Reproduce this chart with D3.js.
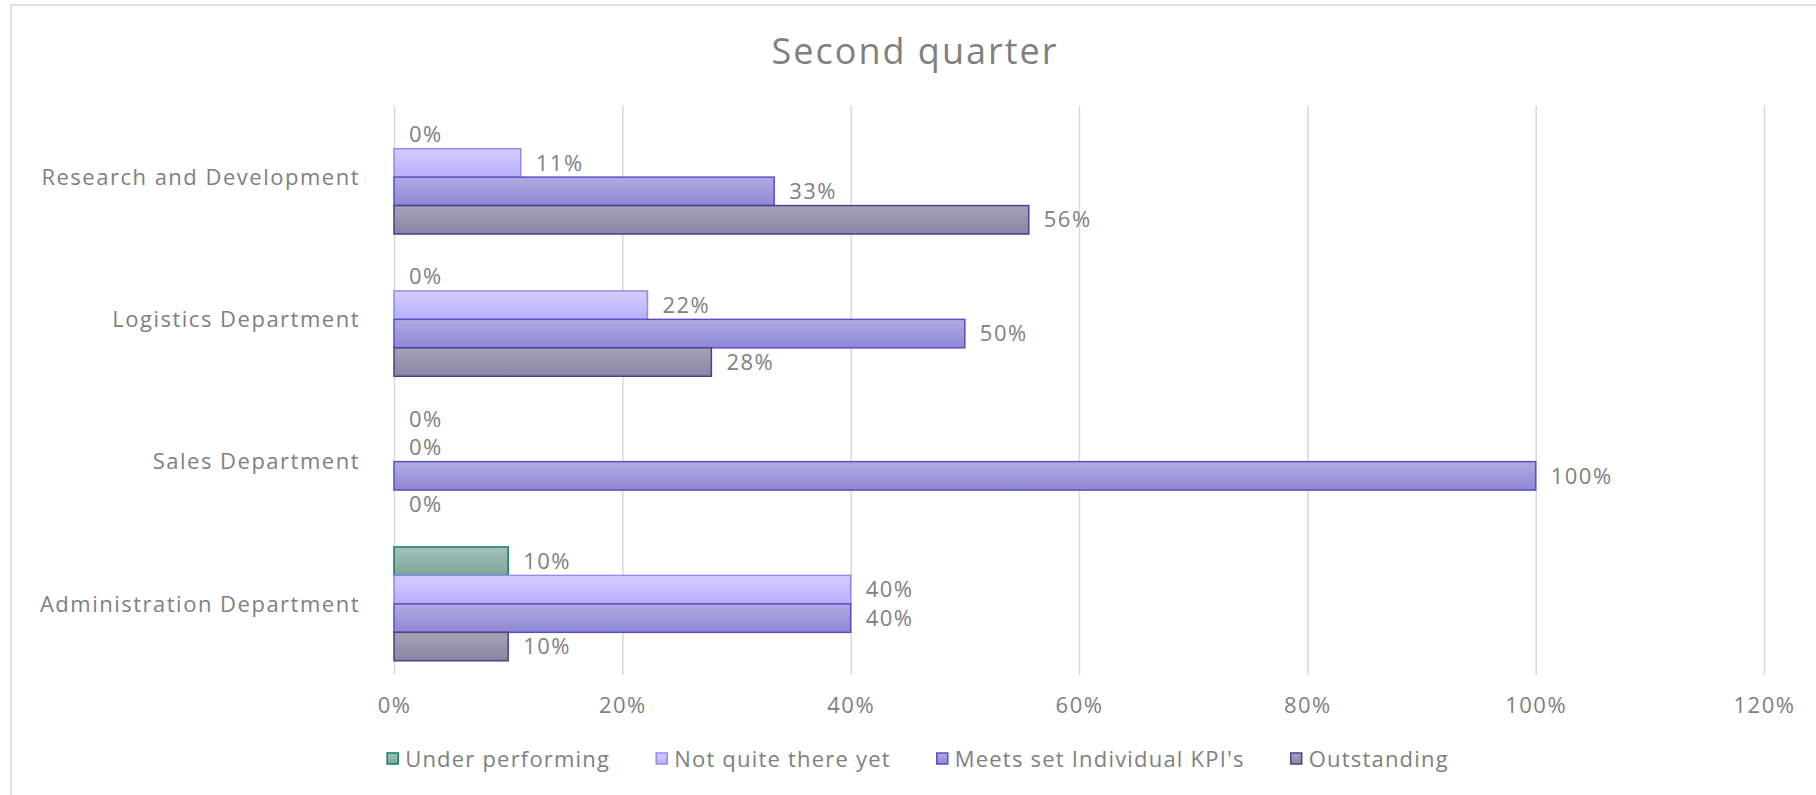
<!DOCTYPE html>
<html>
<head>
<meta charset="utf-8">
<script src="https://cdn.jsdelivr.net/npm/d3@7"></script>
<style>
  body { margin: 0; background: #fff; }
  svg { display: block; font-family: 'Open Sans', sans-serif; }
</style>
</head>
<body>
<svg width="1816" height="795"></svg>
<script>
// chart data
const categories = ['Research and Development', 'Logistics Department', 'Sales Department', 'Administration Department']
const seriesNames = ['Under performing', 'Not quite there yet', "Meets set Individual KPI's", 'Outstanding']
const underPerforming = [0, 0, 0, 0.10]
const notQuite = [0.111, 0.222, 0, 0.40]
const meetsKpi = [0.333, 0.50, 1.00, 0.40]
const outstanding = [0.556, 0.278, 0, 0.10]
const xTicks = [0, 0.2, 0.4, 0.6, 0.8, 1.0, 1.2]

const colors = [
  { top: '#a3c2ba', bottom: '#7fa59b', stroke: '#147a6d' },
  { top: '#d3cfff', bottom: '#b7aefa', stroke: '#9588f0' },
  { top: '#b0ace2', bottom: '#8f87d5', stroke: '#5a4ec6' },
  { top: '#a7a3b6', bottom: '#8a84a2', stroke: '#4a4090' }
]

const seriesValues = [underPerforming, notQuite, meetsKpi, outstanding]
const data = categories.map((c, i) => ({
  category: c,
  values: seriesNames.map((s, j) => ({ series: s, idx: j, value: seriesValues[j][i] }))
}))

const svg = d3.select('svg')
const width = +svg.attr('width')
const height = +svg.attr('height')
const textColor = '#808080'
const gridColor = '#d9d9d9'
const fontSize = '22px'
const spacing = '1.5px'

// chart border (right and bottom edges fall outside the picture)
svg.append('path')
  .attr('d', `M11,${height} V5 H${width}`)
  .attr('fill', 'none')
  .attr('stroke', gridColor)
  .attr('stroke-width', 1.5)

const defs = svg.append('defs')
colors.forEach((c, i) => {
  const grad = defs.append('linearGradient')
    .attr('id', 'grad' + i)
    .attr('x1', 0).attr('y1', 0).attr('x2', 0).attr('y2', 1)
  grad.append('stop').attr('offset', '0%').attr('stop-color', c.top)
  grad.append('stop').attr('offset', '100%').attr('stop-color', c.bottom)
})

svg.append('text')
  .attr('x', 915).attr('y', 64)
  .attr('text-anchor', 'middle')
  .style('fill', textColor)
  .style('font-size', '36px')
  .style('letter-spacing', '2px')
  .text('Second quarter')

const margin = { top: 106, left: 394, right: 52, bottom: 120 }
const innerWidth = width - margin.left - margin.right
const innerHeight = height - margin.top - margin.bottom

const xScale = d3.scaleLinear()
  .domain([0, 1.2])
  .range([0, innerWidth])

const yScale = d3.scaleBand()
  .domain(categories)
  .range([0, innerHeight])
  .paddingInner(0.2)
  .paddingOuter(0.1)

const yInner = d3.scaleBand()
  .domain(seriesNames)
  .range([0, yScale.bandwidth()])

const g = svg.append('g')
  .attr('transform', `translate(${margin.left}, ${margin.top})`)

const xAxis = d3.axisBottom(xScale)
  .tickValues(xTicks)
  .tickSize(-innerHeight)
  .tickPadding(22)
  .tickFormat(d3.format('.0%'))

const xAxisG = g.append('g').call(xAxis)
  .attr('transform', `translate(0, ${innerHeight})`)
xAxisG.select('.domain').remove()
xAxisG.selectAll('line').attr('stroke', gridColor).attr('stroke-width', 1.5)
xAxisG.selectAll('text')
  .style('fill', textColor)
  .style('font-size', fontSize)
  .style('letter-spacing', spacing)
  .style('font-family', "'Open Sans', sans-serif")

// category labels
g.selectAll('.cat').data(categories)
  .enter().append('text')
  .attr('class', 'cat')
  .attr('x', -34)
  .attr('y', d => yScale(d) + yScale.bandwidth() / 2)
  .attr('dy', '0.35em')
  .attr('text-anchor', 'end')
  .style('fill', textColor)
  .style('font-size', fontSize)
  .style('letter-spacing', spacing)
  .text(d => d)

const groups = g.selectAll('.grp').data(data)
  .enter().append('g')
  .attr('class', 'grp')
  .attr('transform', d => `translate(0, ${yScale(d.category)})`)

groups.selectAll('rect').data(d => d.values.filter(v => v.value > 0))
  .enter().append('rect')
  .attr('x', 0)
  .attr('y', d => yInner(d.series))
  .attr('width', d => xScale(d.value))
  .attr('height', yInner.bandwidth())
  .attr('fill', d => `url(#grad${d.idx})`)
  .attr('stroke', d => colors[d.idx].stroke)
  .attr('stroke-width', 1.5)

groups.selectAll('.lbl').data(d => d.values)
  .enter().append('text')
  .attr('class', 'lbl')
  .attr('x', d => xScale(d.value) + 15)
  .attr('y', d => yInner(d.series) + yInner.bandwidth() / 2)
  .attr('dy', '0.35em')
  .style('fill', textColor)
  .style('font-size', fontSize)
  .style('letter-spacing', spacing)
  .text(d => d3.format('.0%')(d.value))

// legend
const legend = svg.append('g')
const items = legend.selectAll('g').data(seriesNames)
  .enter().append('g')
items.append('rect')
  .attr('width', 11).attr('height', 11)
  .attr('y', -6)
  .attr('fill', (d, i) => `url(#grad${i})`)
  .attr('stroke', (d, i) => colors[i].stroke)
  .attr('stroke-width', 1.5)
items.append('text')
  .attr('x', 18)
  .attr('dy', '0.35em')
  .style('fill', textColor)
  .style('font-size', fontSize)
  .style('letter-spacing', '1.2px')
  .text(d => d)

const legendGap = 46
let lx = 0
items.each(function () {
  const w = this.getBBox().width
  d3.select(this).attr('transform', `translate(${lx}, 0)`)
  lx += w + legendGap
})
const legendWidth = lx - legendGap
legend.attr('transform', `translate(${918 - legendWidth / 2}, 759)`)
</script>
</body>
</html>
